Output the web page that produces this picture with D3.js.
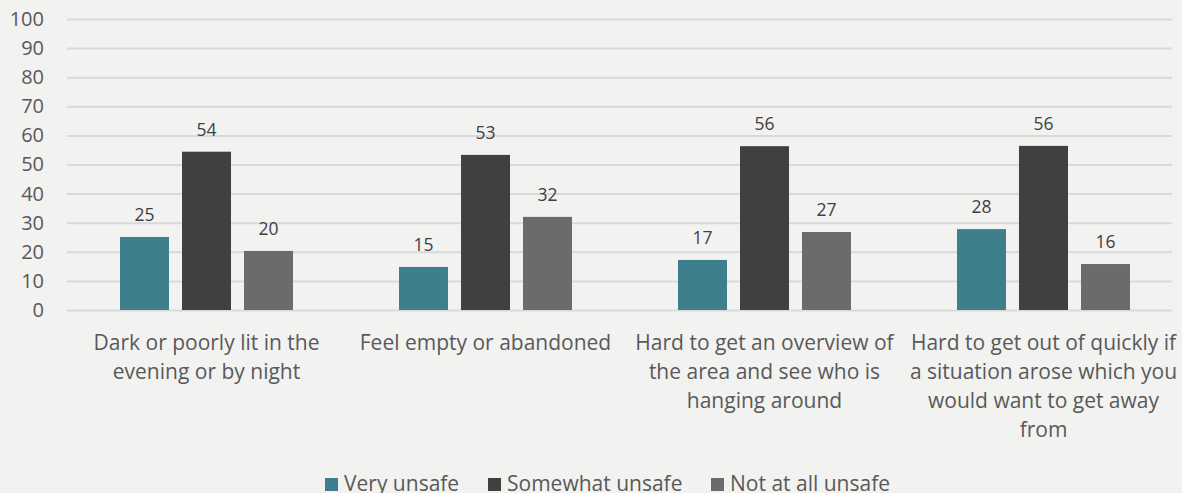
<!DOCTYPE html>
<html>
<head>
<meta charset="utf-8">
<script src="https://cdn.jsdelivr.net/npm/d3@7"></script>
<style>
  html, body { margin: 0; padding: 0; background: #f2f2f1; }
  svg { display: block; font-family: "Open Sans", sans-serif; }
</style>
</head>
<body>
<svg id="chart" width="1182" height="493"></svg>
<script>
var categories = [
  ["Dark or poorly lit in the", "evening or by night"],
  ["Feel empty or abandoned"],
  ["Hard to get an overview of", "the area and see who is", "hanging around"],
  ["Hard to get out of quickly if", "a situation arose which you", "would want to get away", "from"]
];
var seriesNames = ["Very unsafe", "Somewhat unsafe", "Not at all unsafe"];
var veryUnsafe = [25.1, 14.8, 17.2, 27.8];
var somewhatUnsafe = [54.4, 53.3, 56.3, 56.4];
var notAtAllUnsafe = [20.3, 32.0, 26.8, 15.8];
var yTicks = [0, 10, 20, 30, 40, 50, 60, 70, 80, 90, 100];

var colors = ["#3e7f8b", "#404040", "#6b6b6b"];
var series = [veryUnsafe, somewhatUnsafe, notAtAllUnsafe];

var margin = { top: 19, right: 10, bottom: 183, left: 67 };
var width = 1182 - margin.left - margin.right;
var height = 493 - margin.top - margin.bottom;

var svg = d3.select("#chart").
  append("g").
  attr("transform", "translate(" + margin.left + "," + margin.top + ")");

var x0 = d3.scaleBand().
  domain(d3.range(categories.length)).
  range([-3, 1113]);

var x1 = d3.scaleBand().
  domain(d3.range(series.length)).
  range([56, 229]).
  paddingInner(0.21);

var y = d3.scaleLinear().
  domain([0, 100]).
  range([height, 0]);

var yAxis = d3.axisLeft(y).
  tickValues(yTicks).
  tickSize(-width).
  tickPadding(23);

var gY = svg.append("g").call(yAxis);
gY.select(".domain").remove();
gY.selectAll(".tick line").
  attr("stroke", "#d9d9d9").
  attr("stroke-width", 2);
gY.selectAll(".tick text").
  attr("fill", "#595959").
  style("font-size", "20px").
  style("font-family", "Open Sans, sans-serif");

var groups = svg.selectAll(".group").
  data(categories).
  enter().append("g").
  attr("transform", function(d, i) { return "translate(" + x0(i) + ",0)"; });

groups.each(function(c, ci) {
  var g = d3.select(this);
  series.forEach(function(s, si) {
    g.append("rect").
      attr("x", x1(si)).
      attr("y", y(s[ci])).
      attr("width", x1.bandwidth()).
      attr("height", height - y(s[ci])).
      attr("fill", colors[si]);
    g.append("text").
      attr("x", x1(si) + x1.bandwidth() / 2).
      attr("y", y(s[ci]) - 16).
      attr("text-anchor", "middle").
      attr("fill", "#404040").
      style("font-size", "17.5px").
      text(Math.round(s[ci]));
  });
  var t = g.append("text").
    attr("text-anchor", "middle").
    attr("fill", "#595959").
    style("font-size", "21px");
  c.forEach(function(line, li) {
    t.append("tspan").
      attr("x", x1(1) + x1.bandwidth() / 2).
      attr("y", height + 40 + li * 29).
      text(line);
  });
});

// legend
var legendX = [325, 488, 711];
var legend = d3.select("#chart").append("g");
seriesNames.forEach(function(name, i) {
  legend.append("rect").
    attr("x", legendX[i]).
    attr("y", 478).
    attr("width", 13).
    attr("height", 13).
    attr("fill", colors[i]);
  legend.append("text").
    attr("x", legendX[i] + 19).
    attr("y", 491).
    attr("fill", "#595959").
    style("font-size", "21px").
    text(name);
});
</script>
</body>
</html>
